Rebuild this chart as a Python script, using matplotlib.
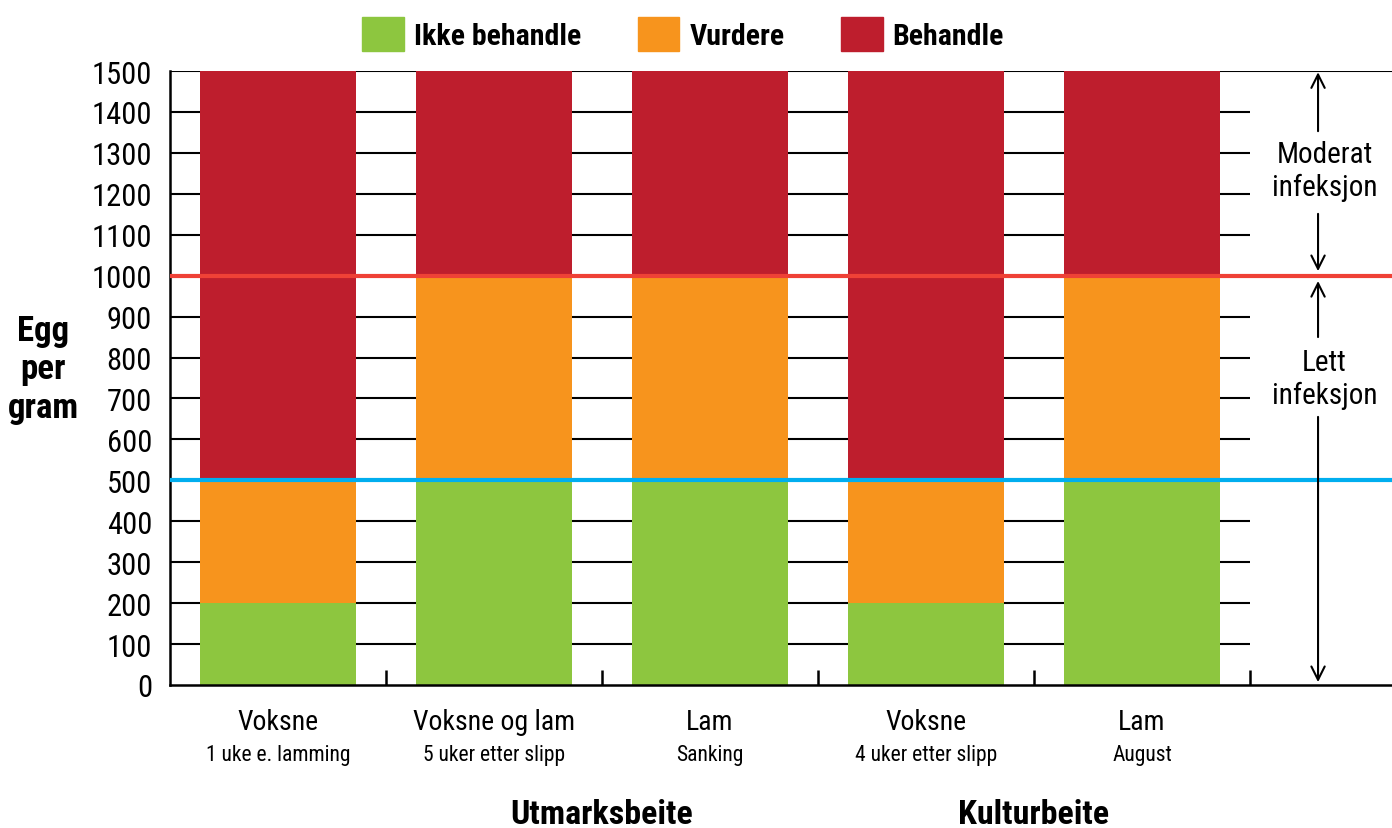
import matplotlib.pyplot as plt
from matplotlib.patches import Patch
from matplotlib.transforms import blended_transform_factory

plt.rcParams['font.family'] = ['Roboto Condensed', 'Liberation Sans Narrow', 'DejaVu Sans']
plt.rcParams['font.stretch'] = 'condensed'

# Data
labels = ["Voksne", "Voksne og lam", "Lam", "Voksne", "Lam"]
sublabels = ["1 uke e. lamming", "5 uker etter slipp", "Sanking", "4 uker etter slipp", "August"]
groups = ["Utmarksbeite", "Kulturbeite"]
group_pos = [2.0, 4.0]
ikke_behandle = [200, 500, 500, 200, 500]
vurdere = [300, 500, 500, 300, 500]
behandle = [1000, 500, 500, 1000, 500]
yticks = list(range(0, 1501, 100))
limit_low = 500
limit_high = 1000

green = "#8DC63F"
orange = "#F7941D"
red = "#BE1E2D"

fig = plt.figure(figsize=(13.92, 8.29), dpi=100)
ax = fig.add_axes([170 / 1392, 143 / 829, 1222 / 1392, 614 / 829])

x = list(range(len(labels)))
xmin, xmax = -0.5, -0.5 + 1222 / 216
ax.set_xlim(xmin, xmax)
ax.set_ylim(0, 1500)

# grid lines behind the bars
ax.hlines(yticks[1:-1], -0.5, 4.5, color="black", lw=1.5, zorder=1)
ax.hlines(1500, xmin, xmax, color="black", lw=1.5, zorder=1)

w = 0.722
ax.bar(x, ikke_behandle, w, color=green, zorder=2)
ax.bar(x, vurdere, w, bottom=ikke_behandle, color=orange, zorder=2)
bottom2 = [a + b for a, b in zip(ikke_behandle, vurdere)]
ax.bar(x, behandle, w, bottom=bottom2, color=red, zorder=2)

ax.axhline(limit_high, color="#EF4136", lw=3, zorder=3)
ax.axhline(limit_low, color="#00AEEF", lw=3, zorder=3)

# spines / ticks
for s in ["top", "right"]:
    ax.spines[s].set_visible(False)
ax.spines["left"].set_linewidth(1.8)
ax.spines["bottom"].set_linewidth(1.8)
ax.set_yticks(yticks)
ax.tick_params(axis="y", length=0, labelsize=22, pad=13)
ax.set_xticks([0.5, 1.5, 2.5, 3.5, 4.5])
ax.set_xticklabels([])
ax.tick_params(axis="x", direction="in", length=11, width=1.8)

trans = blended_transform_factory(ax.transData, fig.transFigure)
for xi, lab, sub in zip(x, labels, sublabels):
    ax.text(xi, 1 - 723 / 829, lab, transform=trans, ha="center", va="center", fontsize=20)
    ax.text(xi, 1 - 756 / 829, sub, transform=trans, ha="center", va="center", fontsize=15.5)
for gp, g in zip(group_pos, groups):
    ax.text(gp - 0.5, 1 - 815 / 829, g, transform=trans, ha="center", va="center",
            fontsize=24.5, fontweight="bold")

fig.text(43 / 1392, 1 - 370 / 829, "Egg\nper\ngram", ha="center", va="center",
         fontsize=25, fontweight="bold", linespacing=1.2)

# infection annotations
ax_x = 4.815
arrow = dict(arrowstyle="->", color="black", lw=1.5, mutation_scale=24, shrinkA=0, shrinkB=0)
ax.annotate("", xy=(ax_x, 1497), xytext=(ax_x, 1353), arrowprops=arrow)
ax.annotate("", xy=(ax_x, 1011), xytext=(ax_x, 1151), arrowprops=arrow)
ax.annotate("", xy=(ax_x, 987), xytext=(ax_x, 850), arrowprops=arrow)
ax.annotate("", xy=(ax_x, 7), xytext=(ax_x, 655), arrowprops=arrow)
ax.text(ax_x + 0.03, 1257, "Moderat\ninfeksjon", ha="center", va="center", fontsize=21, linespacing=1.2)
ax.text(ax_x + 0.03, 749, "Lett\ninfeksjon", ha="center", va="center", fontsize=21, linespacing=1.2)

handles = [Patch(color=green, label="Ikke behandle"),
           Patch(color=orange, label="Vurdere"),
           Patch(color=red, label="Behandle")]
fig.legend(handles=handles, loc="center", bbox_to_anchor=(683 / 1392, 1 - 35 / 829), ncol=3,
           frameon=False, prop={"size": 21.5, "weight": "bold"}, handlelength=1.4,
           handleheight=1.35, handletextpad=0.33, columnspacing=1.9)

fig.savefig("out.png", dpi=100)
